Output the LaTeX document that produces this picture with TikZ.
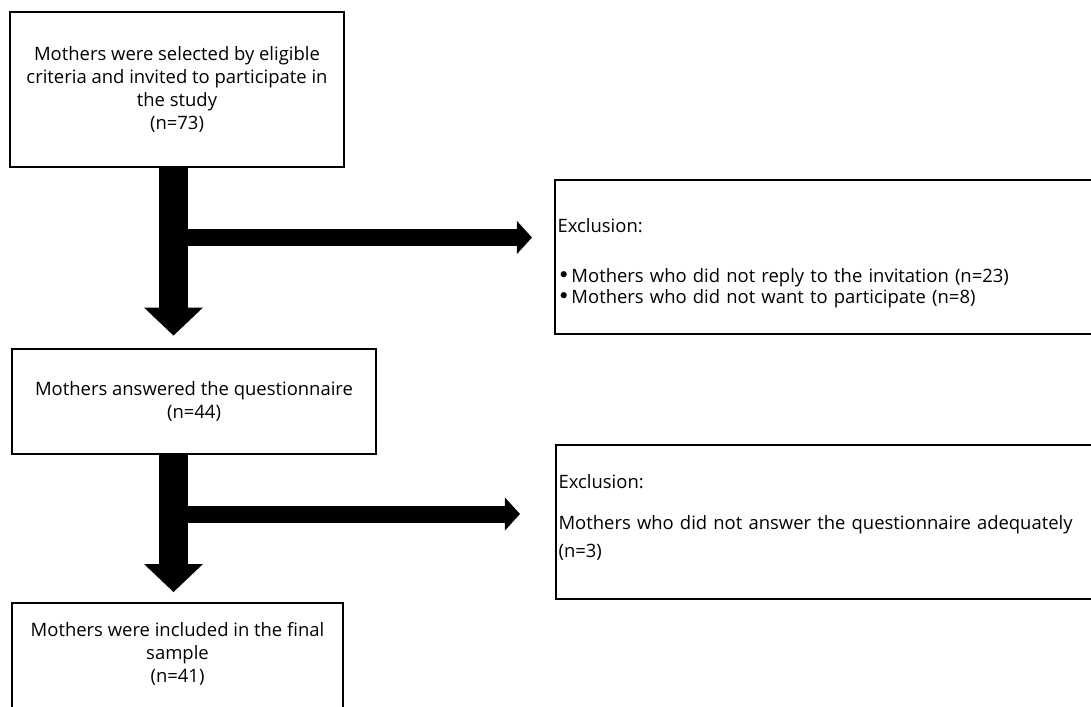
\documentclass[tikz,border=0pt]{standalone}
\usepackage{fontspec}
\setmainfont{Open Sans}
\newfontfamily\dotfont{DejaVu Sans}
\usepackage{tikz}
\usetikzlibrary{arrows.meta,calc}

\newcommand{\itemdot}{{\dotfont\fontsize{12}{13}\selectfont •}\hspace{0.08em}}

\begin{document}
\begin{tikzpicture}[x=0.02cm, y=-0.02cm,
  every node/.style={font=\fontsize{10.5}{13}\selectfont, text=black},
  stage/.style={draw, line width=1.1pt, align=center, inner sep=2pt},
  excl/.style={draw, line width=1.1pt, align=left, anchor=north, inner xsep=1.5pt,
               inner ysep=0pt, text width=11.2cm},
  flowarrow/.style={line width=0.58cm,
               -{Triangle[width=1.18cm,length=0.56cm,line width=0pt]}},
  exitarrow/.style={line width=0.34cm,
               -{Triangle[width=0.66cm,length=0.30cm,line width=0pt]}}]
\useasboundingbox (0,0) rectangle (1091,706);
% main stages
\node[stage, minimum width=6.68cm, minimum height=3.1cm] (sel) at (177,89.5)
  {Mothers were selected by eligible\\criteria and invited to participate in\\the study\\(n=73)};
\node[stage, minimum width=7.28cm, minimum height=2.1cm] (ans) at (194,401.5)
  {Mothers answered the questionnaire\\(n=44)};
\node[stage, minimum width=6.62cm, anchor=north, inner ysep=0.39cm, text depth=1.2cm] (fin) at (177.5,602)
  {Mothers were included in the final\\sample\\(n=41)};
% exclusions
\node[excl, text height=1.06cm, text depth=2.02cm] (exA) at (837.5,179)
  {Exclusion:\\[15pt]\itemdot Mothers who did not reply to the invitation (n=23)\\[-1pt]\itemdot Mothers who did not want to participate (n=8)};
\node[excl, text height=0.88cm, text depth=2.2cm] (exB) at (838.5,444)
  {Exclusion:\\[10pt]Mothers who did not answer the questionnaire adequately\\[3pt](n=3)};
% arrows
\coordinate (spine) at (173.5,0);
\coordinate (forkA) at (173.5,237.5);
\coordinate (forkB) at (173.5,514);
\draw[flowarrow, shorten >=0.25cm] (sel.south -| spine) -- (ans.north -| spine);
\draw[flowarrow, shorten >=0.2cm] (ans.south -| spine) -- (fin.north -| spine);
\draw[exitarrow, shorten >=0.44cm] (forkA) -- (forkA -| exA.west);
\draw[exitarrow, shorten >=0.7cm] (forkB) -- (forkB -| exB.west);
\end{tikzpicture}
\end{document}
